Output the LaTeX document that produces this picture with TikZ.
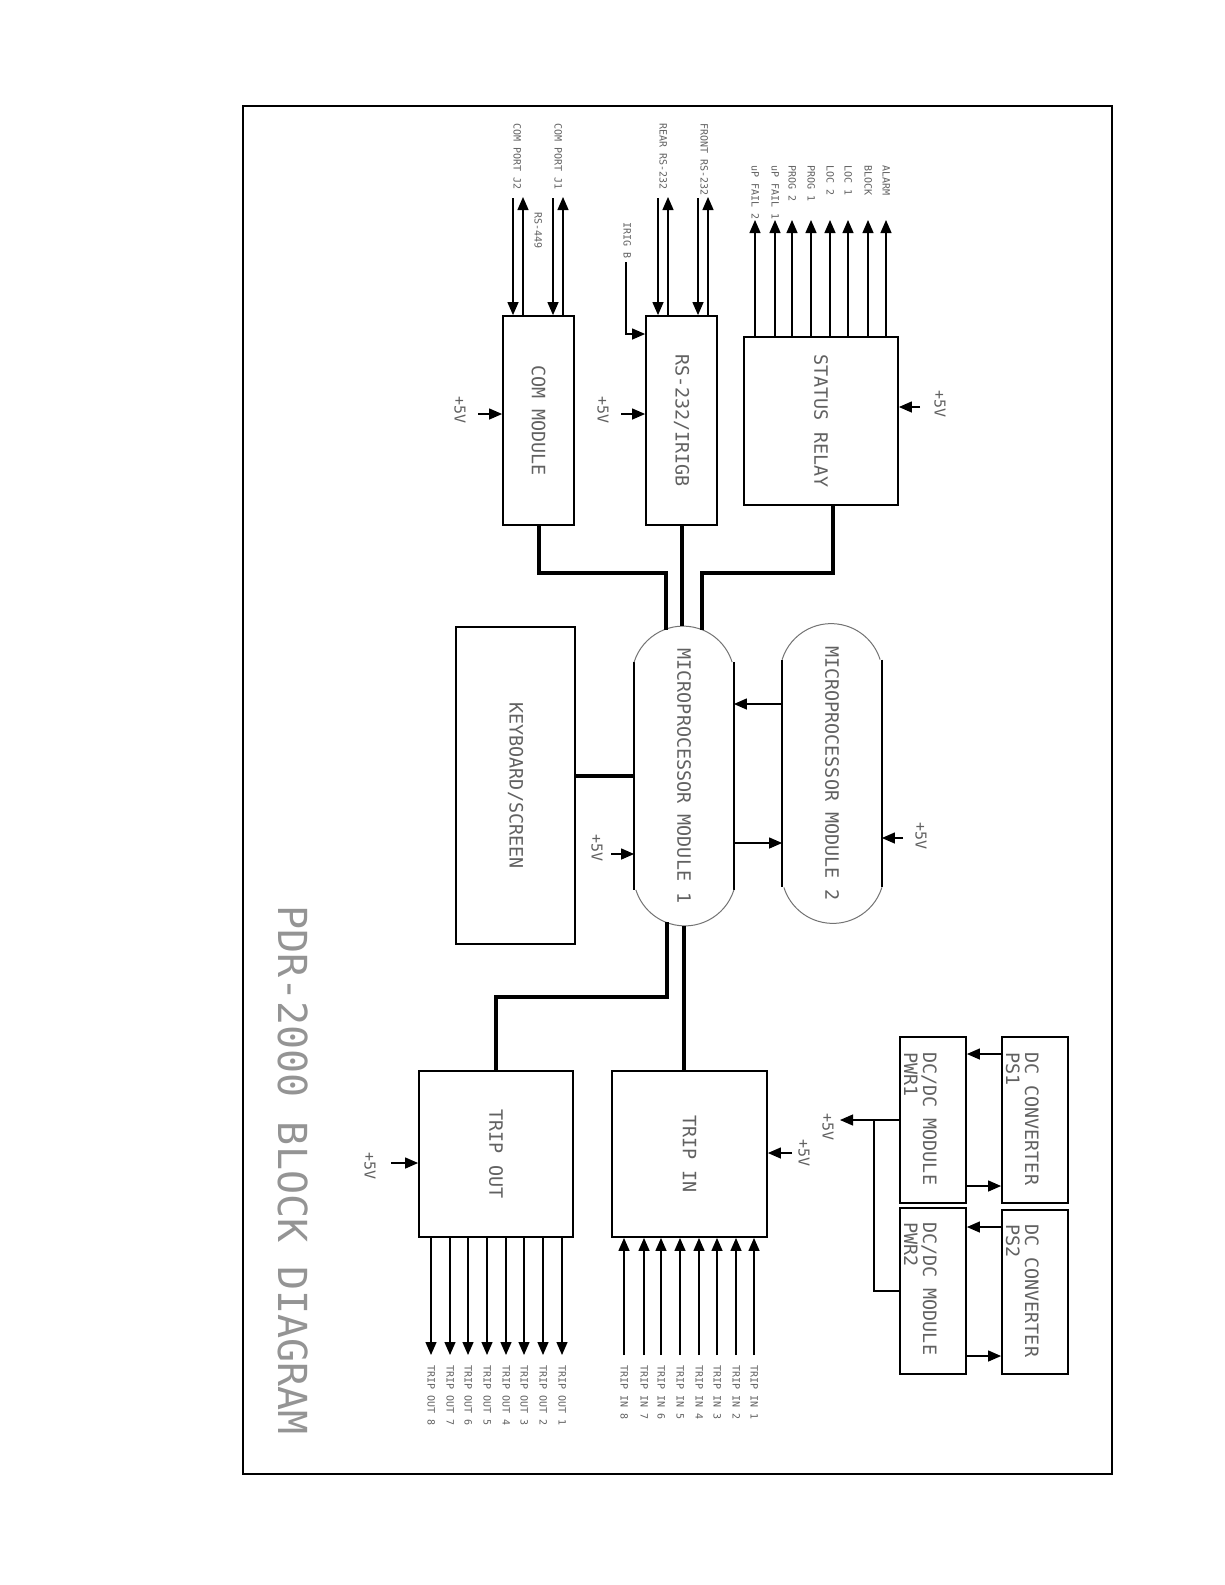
\documentclass[tikz,border=0pt]{standalone}
\usepackage{fontspec}
\usepackage{graphicx}
\usetikzlibrary{arrows.meta, calc}
\newfontfamily\cadfont{DejaVu Sans Mono}
\newcommand{\fsig}{\cadfont\fontsize{10}{12}\selectfont}
\newcommand{\fvolt}{\cadfont\fontsize{15}{18}\selectfont}
\newcommand{\fmod}{\cadfont\fontsize{18.4}{19}\selectfont}
\newcommand{\fttl}{\cadfont\fontsize{40}{48}\selectfont}
\newcommand{\vtext}[1]{\rotatebox{-90}{#1}}
\colorlet{inkgray}{black!62}
\tikzset{
  blk/.style={draw, line width=1.8pt, inner sep=0pt, font=\fmod, text=inkgray},
  bus/.style={line width=4pt},
  wire/.style={line width=1.3pt},
  arr/.style={wire, -{Triangle[length=13pt,width=11pt]}},
  sig/.style={rotate=-90, anchor=west, inner sep=0pt, font=\fsig, text=inkgray, text height=7pt, text depth=0pt},
  vlab/.style={rotate=-90, inner sep=0pt, font=\fvolt, text=inkgray},
  boxtxt/.style={rotate=-90, anchor=north west, align=left, inner sep=0pt, font=\fmod, text=inkgray},
  arcline/.style={line width=1pt, black!55}
}
\begin{document}
\begin{tikzpicture}[x=1pt, y=-1pt]
  \path[use as bounding box, fill=white] (0,0) rectangle (1225,1585);
  % frame and title
  \draw[line width=1.2pt] (243,106) rectangle (1112,1474);
  \node[sig, font=\fttl, text=black!42, text height=29pt] (title) at (293,905) {PDR-2000 BLOCK DIAGRAM};

  % blocks
  \node[blk, minimum width=71pt, minimum height=209pt] (com) at (538.5,420.5) {\vtext{COM MODULE}};
  \node[blk, minimum width=71pt, minimum height=209pt] (rs) at (681.5,420.5) {\vtext{RS-232/IRIGB}};
  \node[blk, minimum width=154pt, minimum height=168pt] (stat) at (821,421) {\vtext{STATUS RELAY}};
  \node[blk, minimum width=119pt, minimum height=317pt] (kbd) at (515.5,785.5) {\vtext{KEYBOARD/SCREEN}};
  \node[blk, draw=none, minimum width=98pt, minimum height=298pt] (mpu1) at (684,776) {\vtext{MICROPROCESSOR MODULE 1}};
  \node[blk, draw=none, minimum width=98pt, minimum height=298pt] (mpu2) at (832,773.5) {\vtext{MICROPROCESSOR MODULE 2}};
  \node[blk, minimum width=154pt, minimum height=166pt] (tout) at (496,1154) {\vtext{TRIP OUT}};
  \node[blk, minimum width=155pt, minimum height=166pt] (tin) at (689.5,1154) {\vtext{TRIP IN}};
  \node[blk, minimum width=66pt, minimum height=166pt] (pwr1) at (933,1120) {};
  \node[blk, minimum width=66pt, minimum height=166pt] (pwr2) at (933,1291) {};
  \node[blk, minimum width=66pt, minimum height=166pt] (ps1) at (1035,1120) {};
  \node[blk, minimum width=66pt, minimum height=164pt] (ps2) at (1035,1292) {};
  \node[boxtxt] (pwr1t) at (937,1052) {DC/DC MODULE\\PWR1};
  \node[boxtxt] (pwr2t) at (937,1222) {DC/DC MODULE\\PWR2};
  \node[boxtxt] (ps1t) at (1039,1052) {DC CONVERTER\\PS1};
  \node[boxtxt] (ps2t) at (1039,1224) {DC CONVERTER\\PS2};

  % rounded ends of the processor modules
  \foreach \m in {mpu1,mpu2} {
    \draw[line width=1.8pt] ($(\m.north west)+(0,36)$) -- ($(\m.south west)+(0,-36)$);
    \draw[line width=1.8pt] ($(\m.north east)+(0,36)$) -- ($(\m.south east)+(0,-36)$);
    \draw[arcline] ($(\m.north west)+(0,36)$) arc[start angle=197.4, end angle=342.6, radius=51.35];
    \draw[arcline] ($(\m.south east)+(0,-36)$) arc[start angle=17.4, end angle=162.6, radius=51.35];
  }

  % buses
  \coordinate (m1a) at (666,630);
  \coordinate (m1c) at (702,630);
  \coordinate (m1d) at (667,922);
  \draw[bus] (com.south) -- ++(0,47) -| (m1a);
  \draw[bus] (rs.south) -- (rs.south |- mpu1.north);
  \draw[bus] ([xshift=12pt]stat.south) -- ++(0,67) -| (m1c);
  \draw[bus] (mpu1.west) -- (mpu1.west -| kbd.east);
  \draw[bus] (m1d) -- ++(0,75) -| (tout.north);
  \draw[bus] (mpu1.south) -- (mpu1.south |- tin.north);

  % module 1 <-> module 2
  \draw[arr] (mpu2.west |- 0,704) -- (mpu1.east |- 0,704);
  \draw[arr] (mpu1.east |- 0,843) -- (mpu2.west |- 0,843);

  % +5V supplies
  \foreach \lx/\ly/\tx/\ty/\b/\s in {460/410/478/414/com/west, 603/410/621/414/rs/west,
      940/404/920/407/stat/east, 597/848/611/854/mpu1/west, 921/836/903/838/mpu2/east,
      370/1166/391/1163/tout/west, 804/1153/792/1153/tin/east} {
    \node[vlab] (v\b) at (\lx,\ly) {+5V};
    \coordinate (t\b) at (\tx,\ty);
    \draw[arr] (t\b) -- (t\b -| \b.\s);
  }

  % com ports
  \foreach \x in {513,553} {
    \coordinate (cd\x) at (\x,198);
    \draw[arr] (cd\x) -- (cd\x |- com.north);
  }
  \foreach \x in {523,563} {
    \coordinate (cu\x) at (\x,197);
    \draw[arr] (cu\x |- com.north) -- (cu\x);
  }
  \node[sig] (j2) at (517,123) {COM PORT J2};
  \node[sig] (j1) at (558,123) {COM PORT J1};
  \node[sig] (rs449) at (538,212) {RS-449};

  % RS-232 and IRIG
  \foreach \x in {658,698} {
    \coordinate (rd\x) at (\x,198);
    \draw[arr] (rd\x) -- (rd\x |- rs.north);
  }
  \foreach \x in {668,708} {
    \coordinate (ru\x) at (\x,197);
    \draw[arr] (ru\x |- rs.north) -- (ru\x);
  }
  \node[sig] (rear) at (663,123) {REAR RS-232};
  \node[sig] (front) at (704,123) {FRONT RS-232};
  \node[sig] (irigl) at (627,222) {IRIG B};
  \coordinate (irig) at (626,262);
  \draw[arr] (irig) |- (rs.west |- 0,334);

  % status outputs
  \foreach \x/\t in {755/uP FAIL 2, 775/uP FAIL 1, 792/PROG 2, 811/PROG 1,
      830/LOC 2, 848/LOC 1, 868/BLOCK, 886/ALARM} {
    \coordinate (st\x) at (\x,220);
    \draw[arr] (st\x |- stat.north) -- (st\x);
    \node[sig] (stl\x) at (\x,165) {\t};
  }

  % trip outputs and inputs
  \foreach \x [count=\i] in {562,543,524,506,487,468,450,431} {
    \coordinate (to\i) at (\x,1355);
    \draw[arr] (to\i |- tout.south) -- (to\i);
    \node[sig] (tol\i) at (\x,1365) {TRIP OUT \i};
  }
  \foreach \x [count=\i] in {754,736,717,699,680,661,644,624} {
    \coordinate (ti\i) at (\x,1355);
    \draw[arr] (ti\i) -- (ti\i |- tin.south);
    \node[sig] (til\i) at (\x,1365) {TRIP IN \i};
  }

  % power supplies
  \draw[arr] (ps1.west |- 0,1054) -- (pwr1.east |- 0,1054);
  \draw[arr] (pwr1.east |- 0,1186) -- (ps1.west |- 0,1186);
  \draw[arr] (ps2.west |- 0,1227) -- (pwr2.east |- 0,1227);
  \draw[arr] (pwr2.east |- 0,1356) -- (ps2.west |- 0,1356);
  \coordinate (vout) at (840,1120);
  \coordinate (vj) at (874,1120);
  \draw[arr] (pwr1.west) -- (vout);
  \draw[wire] (pwr2.west) -| (vj);
  \node[vlab] (vpwr) at (828,1127) {+5V};
\end{tikzpicture}
\end{document}
